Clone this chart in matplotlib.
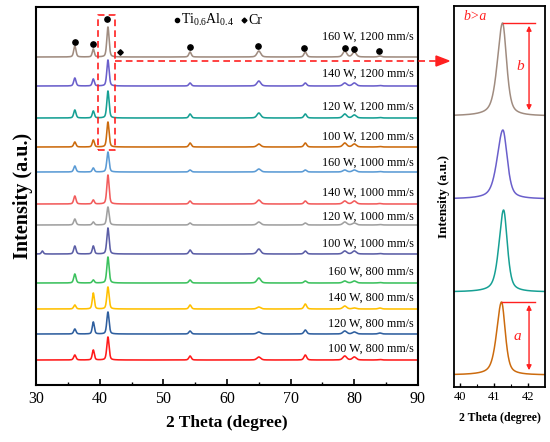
import numpy as np
import matplotlib
matplotlib.use("Agg")
import matplotlib.pyplot as plt
from matplotlib.lines import Line2D

plt.rcParams['font.family'] = ['Liberation Serif', 'DejaVu Serif']
plt.rcParams['mathtext.fontset'] = 'custom'
plt.rcParams['mathtext.rm'] = 'Liberation Serif'
plt.rcParams['mathtext.it'] = 'Liberation Serif:italic'

# samples, bottom to top
labels = ['100 W, 800 mm/s', '120 W, 800 mm/s', '140 W, 800 mm/s', '160 W, 800 mm/s',
          '100 W, 1000 mm/s', '120 W, 1000 mm/s', '140 W, 1000 mm/s', '160 W, 1000 mm/s',
          '100 W, 1200 mm/s', '120 W, 1200 mm/s', '140 W, 1200 mm/s', '160 W, 1200 mm/s']
colors = ['#ff1a1a', '#2f5f9f', '#ffc000', '#3cc15e',
          '#5b5ea6', '#a0a0a0', '#f25c5c', '#5b9bd5',
          '#cc6b0e', '#16a094', '#6a5fcb', '#a08c80']
offsets = [25, 51, 76, 102, 131, 160, 181, 213, 238, 267, 299, 328]
label_y = [36, 61, 87, 113, 141, 168, 192, 222, 248, 278, 311, 348]

# peak positions (2theta) and widths
peak_pos = [31.0, 36.1, 39.0, 41.3, 54.2, 65.0, 72.3, 78.5, 80.0, 84.0]
peak_fwhm = [0.35, 0.42, 0.38, 0.42, 0.45, 0.7, 0.5, 0.7, 0.7, 0.6]
# peak heights per sample (same order as labels)
heights = [
    [0, 5, 10, 23, 4, 3, 5, 4, 3, 0.5],
    [0, 5, 12, 22, 3, 2, 4, 3, 2, 1],
    [0, 4, 16, 22, 4, 2, 5, 3, 1, 1],
    [0, 9, 3, 26, 3, 5, 2, 2, 2, 0.5],
    [3, 8, 8, 26, 4, 5, 3, 3, 3, 0.5],
    [0, 6, 3, 18, 2, 3, 2, 3, 2, 0.5],
    [0, 8, 4, 29, 3, 4, 3, 3, 3, 0.5],
    [0, 6, 4, 20, 2, 3, 2, 2, 2, 0.5],
    [0, 5, 7, 25, 4, 3, 4, 4, 3, 0.5],
    [0, 8, 7, 27, 4, 5, 4, 4, 3, 0.5],
    [0, 8, 7, 26, 3, 5, 3, 3, 3, 0.5],
    [0, 11, 8, 30, 5, 6, 5, 6, 5, 1],
]

# phase markers
tial_x = [36.1, 39.0, 41.2, 54.2, 64.9, 72.1, 78.5, 79.9, 83.9]
tial_y = [343, 341, 366, 338, 339, 337, 337, 336, 334]
cr_x = [43.2]
cr_y = [333]

# zoomed panel (41 deg peak of the 1200 mm/s samples)
zoom_idx = [8, 9, 10, 11]
zoom_center = [41.22, 41.28, 41.26, 41.25]
zoom_height = [73, 82, 69, 93]
zoom_base = [12, 95, 188, 271]
zoom_hw_left = [0.17, 0.16, 0.20, 0.18]
zoom_hw_right = [0.13, 0.13, 0.15, 0.14]


def pv(x, c, hl, hr, eta=0.55):
    hw = np.where(x < c, hl, hr)
    u = (x - c) / hw
    return eta / (1 + u**2) + (1 - eta) * np.exp(-np.log(2) * u**2)


fig = plt.figure(figsize=(5.5, 4.42), dpi=100)
ax = fig.add_axes([36/550, 1-385/442, 382/550, 378/442])
ax2 = fig.add_axes([454/550, 1-387/442, 91/550, 381/442])

x = np.linspace(30, 90, 4000)
for i in range(len(labels)):
    y = np.zeros_like(x) + offsets[i]
    for p, w, h in zip(peak_pos, peak_fwhm, heights[i]):
        y += h * pv(x, p, w/2, w/2, 0.4)
    ax.plot(x, y, color=colors[i], lw=1.15)
    ax.text(89.3, label_y[i], labels[i], ha='right', va='center', fontsize=8.7)

ax.plot(tial_x, tial_y, 'o', color='black', ms=3.8)
ax.plot(cr_x, cr_y, 'D', color='black', ms=2.8)
ax.plot([52.1], [365], 'o', color='black', ms=3)
ax.text(52.7, 365, r'$\mathregular{Ti_{0.6}Al_{0.4}}$', va='center', fontsize=10)
ax.plot([62.7], [365], 'D', color='black', ms=2.5)
ax.text(63.3, 365, 'Cr', va='center', fontsize=10)

# dashed box around the main peak
ax.plot([39.7, 42.4, 42.4, 39.7, 39.7], [235, 235, 370, 370, 235],
        ls='--', color='#ff2020', lw=1.2, dashes=(4, 2.5))

ax.set_xlim(30, 90)
ax.set_ylim(0, 378)
ax.set_yticks([])
ax.set_xticks(range(30, 91, 10))
ax.set_xticks(range(35, 90, 10), minor=True)
ax.tick_params(axis='x', which='major', direction='in', length=4, width=1.2, labelsize=11.5, pad=4)
ax.tick_params(axis='x', which='minor', direction='in', length=2.5, width=1.0)
for s in ax.spines.values():
    s.set_linewidth(1.5)
ax.set_xlabel('2 Theta (degree)', fontsize=12.5, fontweight='bold', labelpad=6)
ax.set_ylabel('Intensity (a.u.)', fontsize=14.5, fontweight='bold', labelpad=2)

# dashed connector arrow
fig.add_artist(Line2D([115/550, 438/550], [1-61/442, 1-61/442], ls='--', color='#ff2020',
                      lw=1.2, dashes=(4, 2.5)))
fig.add_artist(plt.Polygon([[436/550, 1-56/442], [449/550, 1-61/442], [436/550, 1-66/442]],
                           closed=True, color='#ff2020'))

# zoomed panel
xz = np.linspace(39.8, 42.5, 800)
for k, i in enumerate(zoom_idx):
    yz = zoom_base[k] + zoom_height[k] * pv(xz, zoom_center[k], zoom_hw_left[k], zoom_hw_right[k])
    ax2.plot(xz, yz, color=colors[i], lw=1.1)

red = '#ff2020'
ax2.plot([41.26, 42.2], [364, 364], color=red, lw=1.0)
ax2.annotate('', xy=(42.03, 364), xytext=(42.03, 274),
             arrowprops=dict(arrowstyle='<|-|>', color=red, lw=1.0, mutation_scale=7))
ax2.text(41.76, 320, 'b', color=red, fontsize=11, style='italic', ha='center', va='center')
ax2.text(40.45, 370, 'b>a', color=red, fontsize=10, style='italic', ha='center', va='center')
ax2.plot([41.24, 42.2], [85, 85], color=red, lw=1.0)
ax2.annotate('', xy=(42.03, 85), xytext=(42.03, 14),
             arrowprops=dict(arrowstyle='<|-|>', color=red, lw=1.0, mutation_scale=7))
ax2.text(41.7, 50, 'a', color=red, fontsize=11, style='italic', ha='center', va='center')

ax2.set_xlim(39.82, 42.5)
ax2.set_ylim(0, 381)
ax2.set_yticks([])
ax2.set_xticks([40, 41, 42])
ax2.set_xticks([40.5, 41.5], minor=True)
ax2.tick_params(axis='x', which='major', direction='in', length=3, width=1.0, labelsize=9, pad=3)
ax2.tick_params(axis='x', which='minor', direction='in', length=2, width=0.8)
for s in ax2.spines.values():
    s.set_linewidth(1.3)
ax2.set_xlabel('2 Theta (degree)', fontsize=8.5, fontweight='bold', labelpad=6)
ax2.set_ylabel('Intensity (a.u.)', fontsize=9.5, fontweight='bold', labelpad=3)

fig.savefig('out.png', dpi=100)
